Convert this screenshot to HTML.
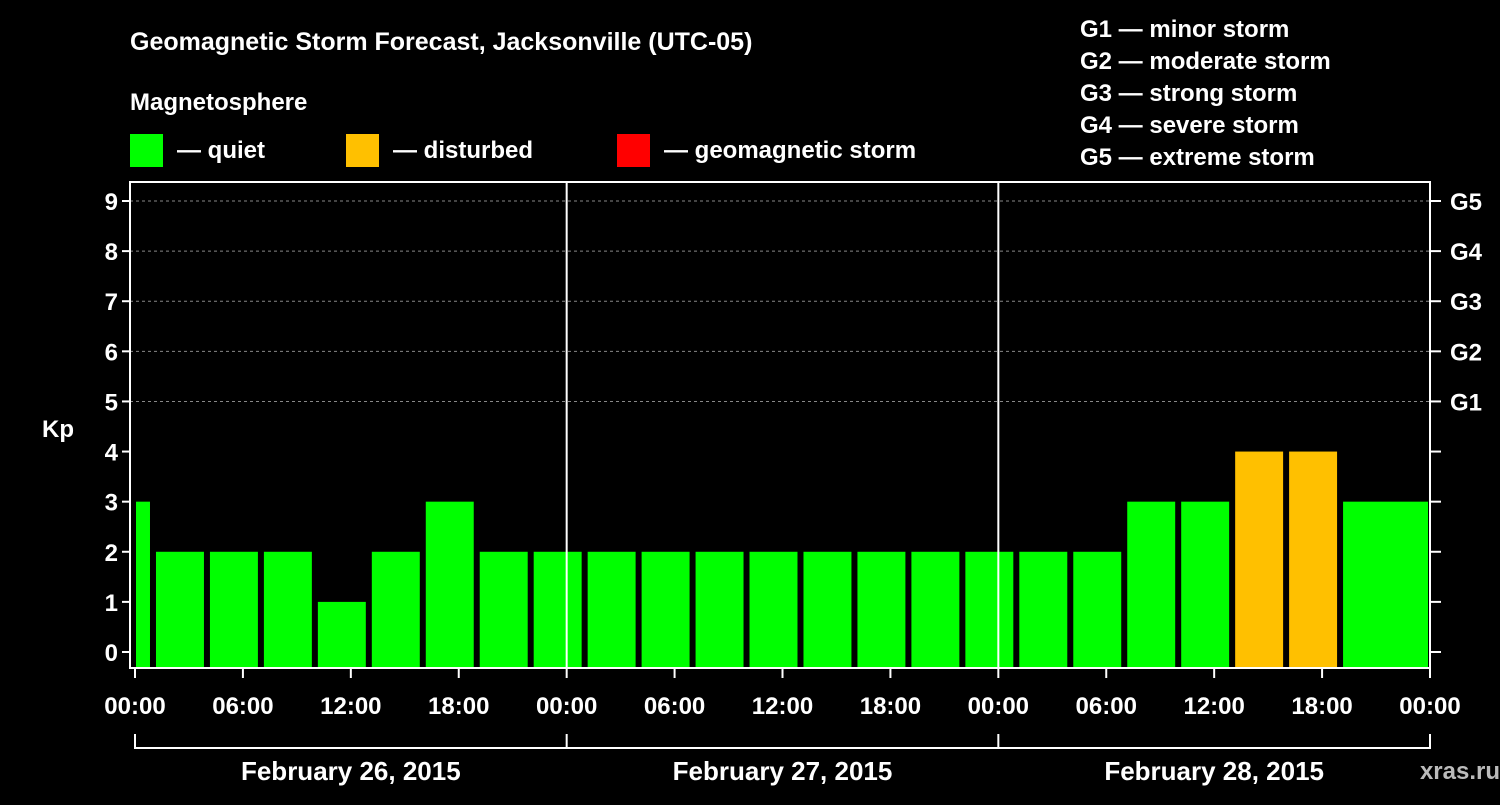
<!DOCTYPE html>
<html><head><meta charset="utf-8"><style>
body{margin:0;background:#000;width:1500px;height:800px;overflow:hidden}
svg text{font-family:"Liberation Sans",sans-serif;font-weight:bold;fill:#fff}
</style></head><body>
<svg id="c" width="1500" height="800">
<text x="130" y="50" font-size="25">Geomagnetic Storm Forecast, Jacksonville (UTC-05)</text>
<text x="130" y="110" font-size="24">Magnetosphere</text>
<rect x="130" y="134" width="33" height="33" fill="#00ff00"/>
<text x="177" y="158" font-size="24">— quiet</text>
<rect x="346" y="134" width="33" height="33" fill="#ffc000"/>
<text x="393" y="158" font-size="24">— disturbed</text>
<rect x="617" y="134" width="33" height="33" fill="#ff0000"/>
<text x="664" y="158" font-size="24">— geomagnetic storm</text>
<g font-size="24">
<text x="1080" y="37">G1 — minor storm</text>
<text x="1080" y="69">G2 — moderate storm</text>
<text x="1080" y="101">G3 — strong storm</text>
<text x="1080" y="133">G4 — severe storm</text>
<text x="1080" y="165">G5 — extreme storm</text>
</g>
<text x="42" y="437" font-size="24">Kp</text>
<text x="1500" y="779" font-size="24" text-anchor="end" fill="#bbb" style="fill:#bbb">xras.ru  </text>
<g id="g"></g>
</svg>
<script>
const kpValues=[3,2,2,2,1,2,3,2,2,2,2,2,2,2,2,2,2,2,2,3,3,4,4,3];
const barStartHours=[0,1,4,7,10,13,16,19,22,25,28,31,34,37,40,43,46,49,52,55,58,61,64,67,70];
const xTickLabels=["00:00","06:00","12:00","18:00","00:00","06:00","12:00","18:00","00:00","06:00","12:00","18:00","00:00"];
const dayLabels=["February 26, 2015","February 27, 2015","February 28, 2015"];
const gLabels=["G1","G2","G3","G4","G5"];
const NS="http://www.w3.org/2000/svg",g=document.getElementById('g');
const X0=135,X1=1430,TOP=182,BOT=668;
const x=h=>X0+h*(X1-X0)/72, y=v=>652-v*(652-201)/9;
function mk(t,a,txt){const e=document.createElementNS(NS,t);for(const k in a)e.setAttribute(k,a[k]);if(txt!=null)e.textContent=txt;g.appendChild(e);return e;}
for(let v=5;v<=9;v++){const e=mk('line',{x1:130,x2:1430,y1:y(v),y2:y(v),stroke:'#888','stroke-dasharray':'3,3'});

}
kpValues.forEach((v,i)=>{let a=x(barStartHours[i]),b=x(barStartHours[i+1]);a=i==0?a+1:a+3;b=b-3;if(i==kpValues.length-1)b=x(72)-2;
const r=mk('rect',{x:a,y:y(v),width:b-a,height:BOT-1-y(v),fill:v>=5?'#ff0000':v>=4?'#ffc000':'#00ff00'});

});
const f=mk('rect',{x:130,y:TOP,width:1300,height:BOT-TOP,fill:'none',stroke:'#fff','stroke-width':2});


[24,48].forEach(h=>{const l=mk('line',{x1:x(h),x2:x(h),y1:TOP,y2:BOT,stroke:'#fff','stroke-width':2});

});
for(let v=0;v<=9;v++){
const t=mk('text',{x:118,y:y(v)+9,'font-size':24,'text-anchor':'end'},String(v));


mk('line',{x1:122,x2:130,y1:y(v),y2:y(v),stroke:'#fff','stroke-width':2});
mk('line',{x1:1430,x2:1441,y1:y(v),y2:y(v),stroke:'#fff','stroke-width':2});}
gLabels.forEach((s,i)=>{const t=mk('text',{x:1450,y:y(5+i)+9,'font-size':24},s);

});
xTickLabels.forEach((s,i)=>{const xx=x(i*6);mk('line',{x1:xx,x2:xx,y1:BOT,y2:678,stroke:'#fff','stroke-width':2});
const t=mk('text',{x:xx,y:714,'font-size':24,'text-anchor':'middle'},s);

});
mk('line',{x1:X0,x2:X1,y1:748,y2:748,stroke:'#fff','stroke-width':2});
[0,24,48,72].forEach(h=>mk('line',{x1:x(h),x2:x(h),y1:734,y2:749,stroke:'#fff','stroke-width':2}));
dayLabels.forEach((s,i)=>{const t=mk('text',{x:x(i*24+12),y:780,'font-size':26,'text-anchor':'middle'},s);

});
</script>
</body></html>
